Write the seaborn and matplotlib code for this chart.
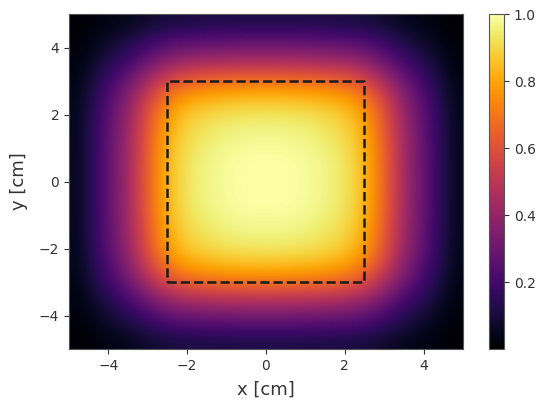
import matplotlib
matplotlib.use('Agg')
import matplotlib.pyplot as plt
import numpy as np
import seaborn as sns

# perfis (intensidade normalizada)
x_cm = [-5, -4.5, -4, -3.5, -3, -2.5, -2, -1.5, -1, -0.5, 0,
        0.5, 1, 1.5, 2, 2.5, 3, 3.5, 4, 4.5, 5]
perfil_x = [0.05, 0.19, 0.33, 0.50, 0.71, 0.87, 0.94, 0.97, 0.99, 1.0, 1.0,
            1.0, 0.99, 0.97, 0.94, 0.87, 0.71, 0.50, 0.33, 0.19, 0.05]
y_cm = [-5, -4.5, -4, -3.5, -3, -2.5, -2, -1.5, -1, -0.5, 0,
        0.5, 1, 1.5, 2, 2.5, 3, 3.5, 4, 4.5, 5]
perfil_y = [0.12, 0.24, 0.38, 0.56, 0.74, 0.87, 0.94, 0.97, 0.99, 1.0, 1.0,
            1.0, 0.99, 0.97, 0.94, 0.87, 0.74, 0.56, 0.38, 0.24, 0.12]

# retângulo tracejado (região alvo)
rect_x = [-2.5, 2.5, 2.5, -2.5, -2.5]
rect_y = [-3, -3, 3, 3, -3]

sns.set_theme(style='ticks')
plt.rcParams['font.family'] = ['DejaVu Sans']

campo = np.outer(perfil_y, perfil_x)

fig = plt.figure(figsize=(5.39, 4.04), dpi=100)
ax = fig.add_axes([0.128, 0.136, 0.731, 0.829])
cax = fig.add_axes([0.907, 0.136, 0.028, 0.829])

cmap = sns.color_palette('inferno', as_cmap=True)
im = ax.imshow(campo, origin='lower', cmap=cmap, vmin=0, vmax=1,
               extent=[x_cm[0], x_cm[-1], y_cm[0], y_cm[-1]],
               interpolation='bicubic', aspect='auto')
ax.plot(rect_x, rect_y, 'k--', lw=1.8)

ax.set_xlim(-5, 5)
ax.set_ylim(-5, 5)
ax.set_xticks([-4, -2, 0, 2, 4])
ax.set_yticks([-4, -2, 0, 2, 4])
ax.tick_params(labelsize=10, colors='#333333', length=3.5, width=0.8)
ax.set_xlabel('x [cm]', fontsize=13, color='#333333', labelpad=6)
ax.set_ylabel('y [cm]', fontsize=13, color='#333333', labelpad=8)
for s in ax.spines.values():
    s.set_color('#555555')
    s.set_linewidth(0.8)

cb = fig.colorbar(im, cax=cax)
cb.set_ticks([0.2, 0.4, 0.6, 0.8, 1.0])
cb.ax.tick_params(labelsize=10, colors='#333333', length=3.5, width=0.8)
cb.outline.set_edgecolor('#555555')
cb.outline.set_linewidth(0.8)

fig.savefig('out.png', dpi=100)
